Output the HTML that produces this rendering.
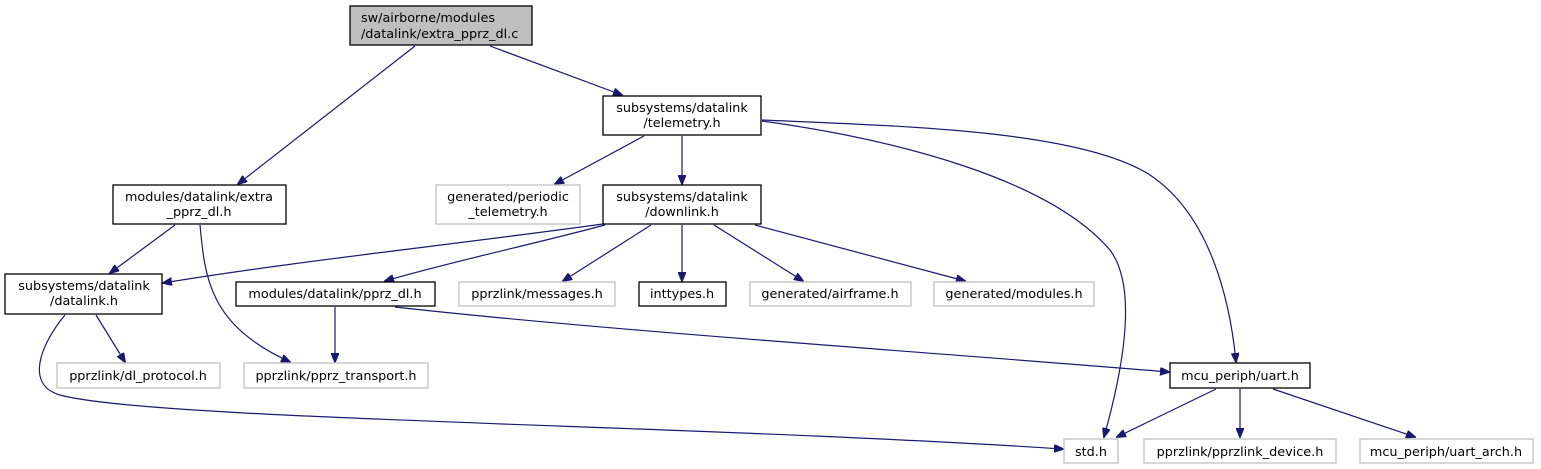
<!DOCTYPE html>
<html><head><meta charset="utf-8"><style>
html,body{margin:0;padding:0;background:#fff;}
svg{display:block;}
text{font-family:"DejaVu Sans","Liberation Sans",sans-serif;font-size:12.8px;fill:#000;}
.b{fill:#fff;stroke:#000;stroke-width:1.3;}
.g{fill:#fff;stroke:#bfbfbf;stroke-width:1.3;}
.e{fill:none;stroke:#191970;stroke-width:1.2;}
</style></head><body>
<svg width="1541" height="469" viewBox="0 0 1541 469" xmlns="http://www.w3.org/2000/svg">
<defs><marker id="a" markerWidth="10" markerHeight="8" refX="9" refY="4" orient="auto" markerUnits="userSpaceOnUse"><path d="M0,0 L10,4 L0,8 z" fill="#191970" stroke="#191970"/></marker></defs>

<path class="e" marker-end="url(#a)" d="M415,46 L238,184"/>
<path class="e" marker-end="url(#a)" d="M490,46 L622,95"/>
<path class="e" marker-end="url(#a)" d="M644,136 L555,184"/>
<path class="e" marker-end="url(#a)" d="M682,136 L682,184"/>
<path class="e" marker-end="url(#a)" d="M762,120 C900,126 1080,130 1150,175 C1210,215 1230,300 1236,362"/>
<path class="e" marker-end="url(#a)" d="M762,121 C900,140 1050,180 1110,250 C1140,290 1120,380 1104,437"/>
<path class="e" marker-end="url(#a)" d="M175,225 L110,273"/>
<path class="e" marker-end="url(#a)" d="M200,225 C205,280 210,325 290,362"/>
<path class="e" marker-end="url(#a)" d="M603,224 C450,245 290,262 163,283"/>
<path class="e" marker-end="url(#a)" d="M605,225 C530,245 450,262 385,281"/>
<path class="e" marker-end="url(#a)" d="M651,225 L563,281"/>
<path class="e" marker-end="url(#a)" d="M682,225 L682,281"/>
<path class="e" marker-end="url(#a)" d="M714,225 L803,281"/>
<path class="e" marker-end="url(#a)" d="M755,225 L965,281"/>
<path class="e" marker-end="url(#a)" d="M335,307 L335,362"/>
<path class="e" marker-end="url(#a)" d="M395,307 C600,330 900,350 1169,372"/>
<path class="e" marker-end="url(#a)" d="M96,315 L125,362"/>
<path class="e" marker-end="url(#a)" d="M65,315 C40,345 25,385 60,395 C150,420 700,425 1063,449"/>
<path class="e" marker-end="url(#a)" d="M1216,389 L1117,437"/>
<path class="e" marker-end="url(#a)" d="M1240,389 L1240,437"/>
<path class="e" marker-end="url(#a)" d="M1273,389 L1415,437"/>

<rect x="350" y="6" width="182" height="39" fill="#bfbfbf" stroke="#000" stroke-width="1.3"/>
<text x="361" y="22">sw/airborne/modules</text>
<text x="361" y="38">/datalink/extra_pprz_dl.c</text>

<rect class="b" x="603" y="96" width="158" height="39"/>
<text x="682" y="112" text-anchor="middle">subsystems/datalink</text>
<text x="682" y="127" text-anchor="middle">/telemetry.h</text>

<rect class="b" x="113" y="185" width="173" height="39"/>
<text x="199" y="201" text-anchor="middle">modules/datalink/extra</text>
<text x="199" y="216" text-anchor="middle">_pprz_dl.h</text>

<rect class="g" x="436" y="185" width="144" height="39"/>
<text x="508" y="201" text-anchor="middle">generated/periodic</text>
<text x="508" y="216" text-anchor="middle">_telemetry.h</text>

<rect class="b" x="603" y="185" width="158" height="39"/>
<text x="682" y="201" text-anchor="middle">subsystems/datalink</text>
<text x="682" y="216" text-anchor="middle">/downlink.h</text>

<rect class="b" x="5" y="274" width="157" height="40"/>
<text x="84" y="290" text-anchor="middle">subsystems/datalink</text>
<text x="84" y="305" text-anchor="middle">/datalink.h</text>

<rect class="b" x="236" y="282" width="199" height="24"/>
<text x="335" y="298" text-anchor="middle">modules/datalink/pprz_dl.h</text>

<rect class="g" x="459" y="282" width="156" height="24"/>
<text x="537" y="298" text-anchor="middle">pprzlink/messages.h</text>

<rect class="b" x="639" y="282" width="87" height="24"/>
<text x="682" y="298" text-anchor="middle">inttypes.h</text>

<rect class="g" x="750" y="282" width="161" height="24"/>
<text x="830" y="298" text-anchor="middle">generated/airframe.h</text>

<rect class="g" x="934" y="282" width="160" height="24"/>
<text x="1014" y="298" text-anchor="middle">generated/modules.h</text>

<rect class="g" x="57" y="363" width="163" height="25"/>
<text x="138" y="380" text-anchor="middle">pprzlink/dl_protocol.h</text>

<rect class="g" x="244" y="363" width="184" height="25"/>
<text x="336" y="380" text-anchor="middle">pprzlink/pprz_transport.h</text>

<rect class="b" x="1170" y="363" width="140" height="25"/>
<text x="1240" y="380" text-anchor="middle">mcu_periph/uart.h</text>

<rect class="g" x="1064" y="439" width="54" height="24"/>
<text x="1091" y="456" text-anchor="middle">std.h</text>

<rect class="g" x="1144" y="439" width="192" height="24"/>
<text x="1240" y="456" text-anchor="middle">pprzlink/pprzlink_device.h</text>

<rect class="g" x="1360" y="439" width="173" height="24"/>
<text x="1446" y="456" text-anchor="middle">mcu_periph/uart_arch.h</text>
</svg>
</body></html>
